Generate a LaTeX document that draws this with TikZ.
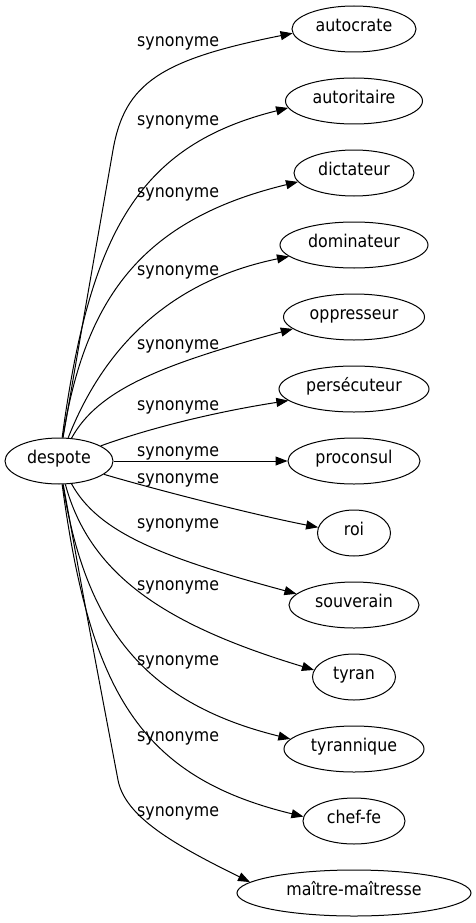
\documentclass[tikz,border=0pt]{standalone}
\usepackage{fontspec}
\setmainfont{DejaVu Sans}[FakeStretch=0.9]
\usetikzlibrary{arrows.meta,shapes.geometric}
\begin{document}
\begin{tikzpicture}[x=1pt,y=-1pt,
  every node/.style={font=\fontsize{17.6}{21}\selectfont},
  word/.style={draw, ellipse, line width=1pt, inner sep=0pt, minimum height=46pt, text height=0.75em, text depth=0.22em},
  lbl/.style={anchor=base west, inner sep=0pt},
  syn/.style={draw, line width=1pt, -{Triangle[length=12pt,width=9pt]}}]
\useasboundingbox (0,0) rectangle (476,923);
\node[word, minimum width=108pt] (d) at (59,461) {despote};
\node[word, minimum width=124pt] (n1) at (354,29) {autocrate};
\node[word, minimum width=137pt] (n2) at (354,101) {autoritaire};
\node[word, minimum width=120pt] (n3) at (354,173) {dictateur};
\node[word, minimum width=148pt] (n4) at (354,245) {dominateur};
\node[word, minimum width=141pt] (n5) at (354,317) {oppresseur};
\node[word, minimum width=150pt] (n6) at (354,389) {persécuteur};
\node[word, minimum width=132pt] (n7) at (354,461) {proconsul};
\node[word, minimum width=73pt] (n8) at (354,533) {roi};
\node[word, minimum width=130pt] (n9) at (354,605) {souverain};
\node[word, minimum width=83pt] (n10) at (354,677) {tyran};
\node[word, minimum width=140pt] (n11) at (354,749) {tyrannique};
\node[word, minimum width=102pt] (n12) at (354,821) {chef-fe};
\node[word, minimum width=234pt] (n13) at (354,893) {maître-maîtresse};
\coordinate (q1) at (113,150);
\coordinate (q13) at (118,780);
\draw[syn] (d) .. controls (86.75,300) .. (q1) .. controls (124.7,83.2) and (160.5,59.6) .. (n1.184);
\draw[syn] (d) .. controls (90,230) and (140,145) .. (n2.186);
\draw[syn] (d) .. controls (85,300) and (140,220) .. (n3.189);
\draw[syn] (d) .. controls (95,370) and (150,285) .. (n4.190);
\draw[syn] (d) .. controls (98,390) and (160,365) .. (n5.191);
\draw[syn] (d) .. controls (150,428) and (215,412) .. (n6.190);
\draw[syn] (d) -- (n7);
\draw[syn] (d) .. controls (150,488) and (250,514) .. (n8.171);
\draw[syn] (d) .. controls (98,532) and (160,557) .. (n9.169);
\draw[syn] (d) .. controls (90,575) and (165,625) .. (n10.170);
\draw[syn] (d) .. controls (85,622) and (140,702) .. (n11.171);
\draw[syn] (d) .. controls (90,692) and (140,777) .. (n12.175);
\draw[syn] (d) .. controls (89.5,630) .. (q13) .. controls (125,817) and (175,845) .. (n13.174);
\node[lbl] (l1) at (137,47) {synonyme};
\node[lbl] (l2) at (137,125) {synonyme};
\node[lbl] (l3) at (137,197) {synonyme};
\node[lbl] (l4) at (137,275) {synonyme};
\node[lbl] (l5) at (137,349) {synonyme};
\node[lbl] (l6) at (137,410) {synonyme};
\node[lbl] (l7) at (137,456) {synonyme};
\node[lbl] (l8) at (137,483) {synonyme};
\node[lbl] (l9) at (137,528) {synonyme};
\node[lbl] (l10) at (137,590) {synonyme};
\node[lbl] (l11) at (137,665) {synonyme};
\node[lbl] (l12) at (137,741) {synonyme};
\node[lbl] (l13) at (137,816) {synonyme};
\end{tikzpicture}
\end{document}
